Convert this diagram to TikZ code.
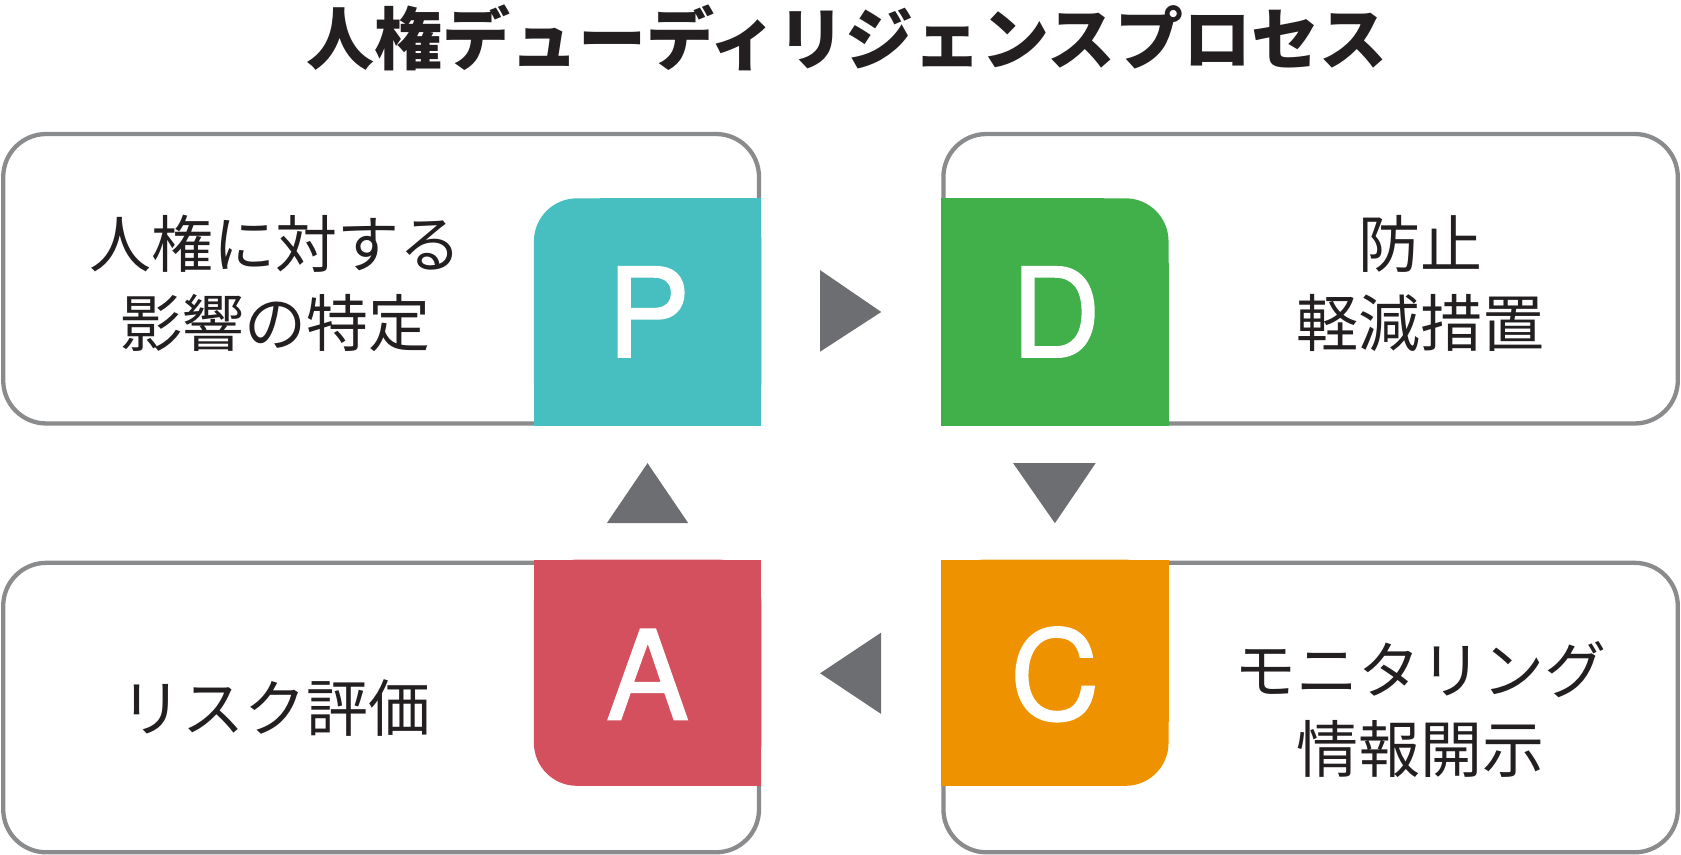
\documentclass[tikz,border=0pt]{standalone}
\usepackage{fontspec}
\newfontfamily\jp{Noto Sans CJK JP}
\newfontfamily\lat{TeX Gyre Heros}[FakeBold=1.3]
\definecolor{boxgray}{HTML}{8A8B8D}
\definecolor{trigray}{HTML}{6D6E71}
\definecolor{pcol}{HTML}{47BEC0}
\definecolor{dcol}{HTML}{41B04A}
\definecolor{acol}{HTML}{D4505E}
\definecolor{ccol}{HTML}{EF9200}
\definecolor{txt}{HTML}{231F20}
\tikzset{
  box/.style={draw=boxgray, line width=4.3pt, fill=white, rounded corners=43pt},
  letter/.style={text=white, font=\lat\fontsize{124}{124}\selectfont, inner sep=0pt},
  label/.style={text=txt, font=\jp\fontsize{62}{79}\selectfont, align=center, inner sep=0pt},
  tri/.style={fill=trigray},
}
\begin{document}
\begin{tikzpicture}[x=1.0721pt,y=-1.0721pt]
\useasboundingbox (0,0) rectangle (1568,797.5);
% title
\node[text=txt, font=\jp\bfseries\fontsize{68}{68}\selectfont, inner sep=0pt] (title) at (790,35) {人権デューディリジェンスプロセス};
% outer boxes
\draw[box] (3,125) rectangle (708,395);
\draw[box] (880,125) rectangle (1565,395);
\draw[box] (3,525) rectangle (708,795);
\draw[box] (880,525) rectangle (1565,795);
% P square (top-left rounded)
\fill[pcol, rounded corners=43pt] (498,185) rectangle (710.2,397.2);
\fill[pcol] (560,185) rectangle (710.2,397.2);
\fill[pcol] (498,245) rectangle (710.2,397.2);
% D square (top-right rounded)
\fill[dcol, rounded corners=43pt] (877.8,185) rectangle (1090,397.2);
\fill[dcol] (877.8,185) rectangle (1030,397.2);
\fill[dcol] (877.8,245) rectangle (1090,397.2);
% A square (bottom-left rounded)
\fill[acol, rounded corners=43pt] (498,522) rectangle (710.2,733);
\fill[acol] (560,522) rectangle (710.2,733);
\fill[acol] (498,522) rectangle (710.2,673);
% C square (bottom-right rounded)
\fill[ccol, rounded corners=43pt] (877.8,522) rectangle (1090,733);
\fill[ccol] (877.8,522) rectangle (1030,733);
\fill[ccol] (877.8,522) rectangle (1090,673);
% letters
\node[letter] (P) at (605,291) {P};
\node[letter] (D) at (985,291) {D};
\node[letter] (A) at (604,629) {A};
\node[letter] (C) at (984,629) {C};
% labels
\node[label] (plan) at (257,264) {人権に対する\\影響の特定};
\node[label] (do) at (1325,264) {防止\\軽減措置};
\node[label] (act) at (257,660) {リスク評価};
\node[label] (check) at (1325,662) {モニタリング\\情報開示};
% triangles
\fill[tri] (765,252) -- (822,291) -- (765,328) -- cycle;
\fill[tri] (945,432) -- (1022,432) -- (984,488) -- cycle;
\fill[tri] (822,590) -- (765,628) -- (822,666) -- cycle;
\fill[tri] (566,488) -- (604,432) -- (642,488) -- cycle;
\end{tikzpicture}
\end{document}
